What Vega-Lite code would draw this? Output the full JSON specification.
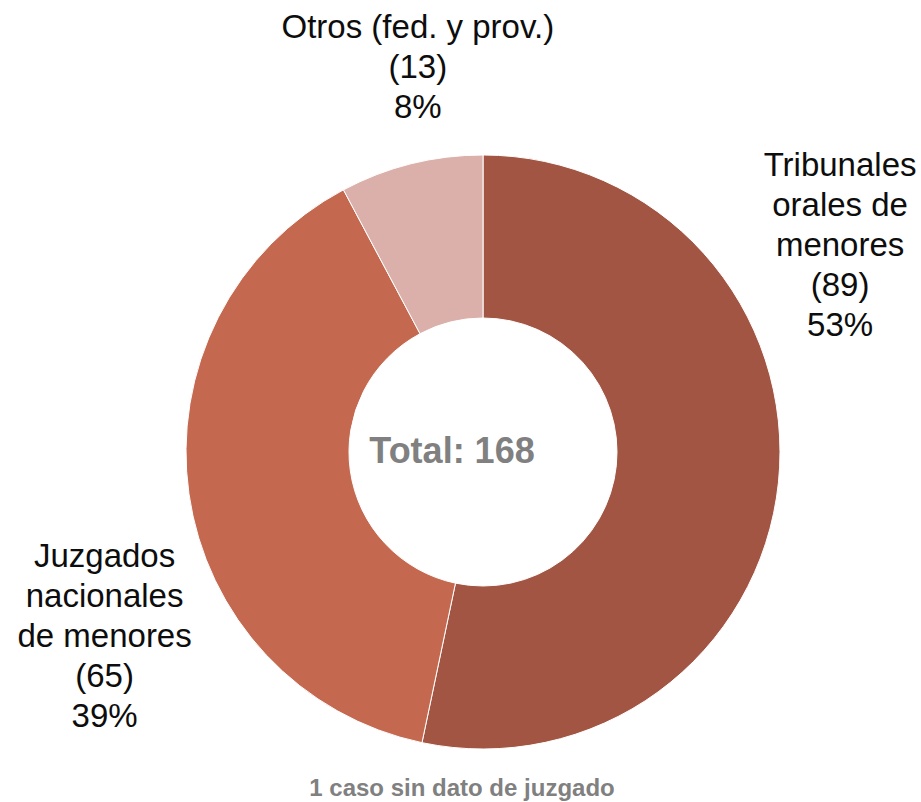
{
  "$schema": "https://vega.github.io/schema/vega-lite/v6.json",
  "width": 876,
  "height": 698,
  "autosize": "none",
  "padding": {"left": 45, "top": 103, "right": 0, "bottom": 0},
  "background": "white",
  "config": {"view": {"stroke": null}},
  "data": {
    "values": [
      {"cat": "Tribunales orales de menores", "value": 89, "ord": 1, "label": ["Tribunales", "orales de", "menores", "(89)", "53%"]},
      {"cat": "Juzgados nacionales de menores", "value": 65, "ord": 2, "label": ["Juzgados", "nacionales", "de menores", "(65)", "39%"]},
      {"cat": "Otros (fed. y prov.)", "value": 13, "ord": 3, "label": ["Otros (fed. y prov.)", "(13)", "8%"]}
    ]
  },
  "encoding": {
    "theta": {"field": "value", "type": "quantitative", "stack": true},
    "order": {"field": "ord", "type": "quantitative"}
  },
  "layer": [
    {
      "mark": {"type": "arc", "outerRadius": 297, "innerRadius": 134, "stroke": "white", "strokeWidth": 1},
      "encoding": {
        "color": {
          "field": "cat", "type": "nominal", "legend": null,
          "scale": {
            "domain": ["Tribunales orales de menores", "Juzgados nacionales de menores", "Otros (fed. y prov.)"],
            "range": ["#A25542", "#C4694F", "#DCB0AA"]
          }
        }
      }
    },
    {
      "mark": {"type": "text", "radius": 360, "dx": -1, "dy": -323, "font": "Liberation Sans", "fontSize": 33, "lineHeight": 40, "align": "center", "baseline": "middle", "color": "#0d0d0d"},
      "encoding": {
        "text": {"condition": {"test": "datum.ord === 1", "field": "label"}, "value": ""}
      }
    },
    {
      "mark": {"type": "text", "radius": 360, "dx": -22, "dy": 54, "font": "Liberation Sans", "fontSize": 33, "lineHeight": 40, "align": "center", "baseline": "middle", "color": "#0d0d0d"},
      "encoding": {
        "text": {"condition": {"test": "datum.ord === 2", "field": "label"}, "value": ""}
      }
    },
    {
      "mark": {"type": "text", "radius": 360, "dx": 22, "dy": -75, "font": "Liberation Sans", "fontSize": 33, "lineHeight": 40, "align": "center", "baseline": "middle", "color": "#0d0d0d"},
      "encoding": {
        "text": {"condition": {"test": "datum.ord === 3", "field": "label"}, "value": ""}
      }
    },
    {
      "data": {"values": [{"t": "Total: 168"}]},
      "mark": {"type": "text", "dx": -31, "dy": 0, "font": "Liberation Sans", "fontSize": 36, "fontWeight": "bold", "align": "center", "baseline": "middle", "color": "#808080"},
      "encoding": {"text": {"field": "t"}, "theta": null, "order": null}
    },
    {
      "data": {"values": [{"t": "1 caso sin dato de juzgado"}]},
      "mark": {"type": "text", "dx": -21, "dy": 344, "font": "Liberation Sans", "fontSize": 24, "fontWeight": "bold", "align": "center", "baseline": "alphabetic", "color": "#808080"},
      "encoding": {"text": {"field": "t"}, "theta": null, "order": null}
    }
  ]
}
